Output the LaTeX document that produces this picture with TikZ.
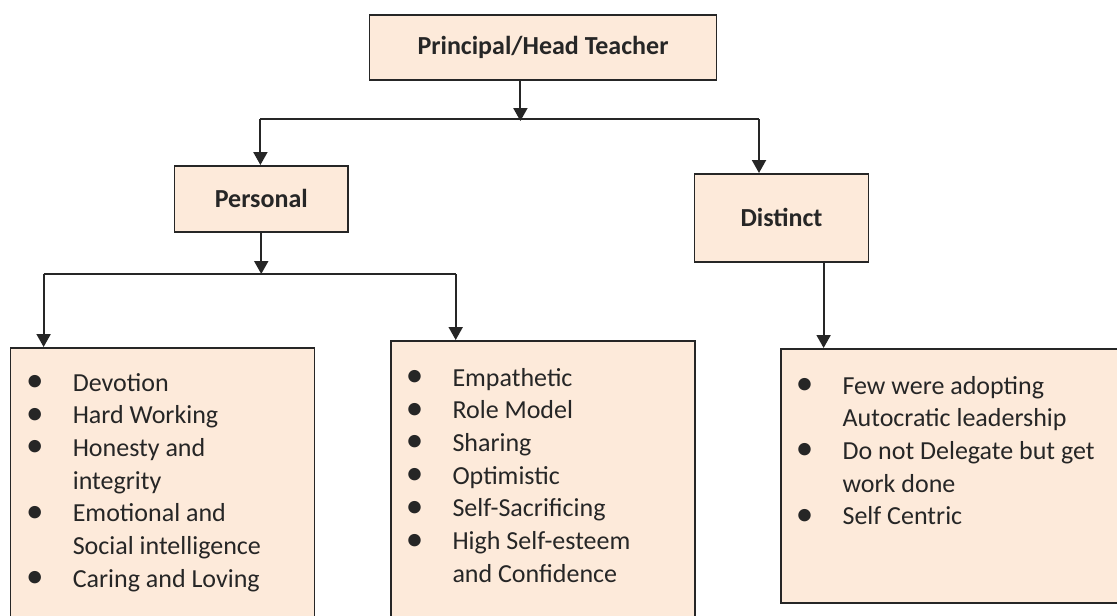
\documentclass[tikz,border=0pt]{standalone}
\usepackage{fontspec}
\setmainfont{Carlito}
\usetikzlibrary{arrows.meta}
\definecolor{peach}{HTML}{FDEADA}
\definecolor{ink}{HTML}{262626}
\newcommand{\bul}{\makebox[38pt][l]{\makebox[0pt]{\raisebox{-0.5pt}{\scalebox{1.35}{\textbullet}}}}}
\tikzset{
  box/.style={draw=ink, line width=1.8pt, fill=peach, anchor=north west, inner sep=0pt,
    font=\fontsize{26}{31}\selectfont\bfseries, text=ink},
  listtext/.style={anchor=base west, inner sep=0pt, text=ink,
    font=\fontsize{26}{32.7}\selectfont},
  bar/.style={draw=ink, line width=1.6pt},
  arr/.style={draw=ink, line width=2pt, -{Triangle[width=14pt,length=13pt]}}
}
\begin{document}
\begin{tikzpicture}[x=1pt,y=-1pt]
\useasboundingbox (0,0) rectangle (1117,616);
\clip (0,0) rectangle (1117,616);
\fill[white] (0,0) rectangle (1117,616);

\node[box, minimum width=347pt, minimum height=65pt] (top) at (368.6,14) {Principal/Head Teacher};
\node[box, minimum width=173.5pt, minimum height=66pt] (personal) at (173.6,165) {Personal};
\node[box, minimum width=174pt, minimum height=88pt] (distinct) at (693.6,173) {Distinct};
\node[box, minimum width=304pt, minimum height=273pt] (box1) at (9.6,347) {};
\node[box, minimum width=303.6pt, minimum height=280pt] (box2) at (390.4,340) {};
\node[box, minimum width=345pt, minimum height=254pt] (box3) at (780.2,348) {};

\node[listtext] (list1) at (34.6,391) {\begin{tabular}[t]{@{}l@{}l@{}}
\bul & Devotion\\
\bul & Hard Working\\
\bul & Honesty and\\
     & integrity\\
\bul & Emotional and\\
     & Social intelligence\\
\bul & Caring and Loving
\end{tabular}};
\node[listtext] (list2) at (414.3,386) {\begin{tabular}[t]{@{}l@{}l@{}}
\bul & Empathetic\\
\bul & Role Model\\
\bul & Sharing\\
\bul & Optimistic\\
\bul & Self-Sacrificing\\
\bul & High Self-esteem\\
     & and Confidence
\end{tabular}};
\node[listtext] (list3) at (804.4,394) {\begin{tabular}[t]{@{}l@{}l@{}}
\bul & Few were adopting\\
     & Autocratic leadership\\
\bul & Do not Delegate but get\\
     & work done\\
\bul & Self Centric
\end{tabular}};

\coordinate (t1) at (520.4,121);
\coordinate (hL) at (260.4,119);
\coordinate (hR) at (759,119);
\draw[bar] (hL) -- (hR);
\draw[arr] (t1 |- top.south) -- (t1);
\draw[arr] (hL) -- (hL |- personal.north);
\draw[arr] (hR) -- (hR |- distinct.north);

\coordinate (pL) at (43.6,274);
\coordinate (pR) at (455.7,274);
\draw[bar] (pL) -- (pR);
\draw[arr] (personal.south) -- (personal.south |- pL);
\draw[arr] (pL) -- (pL |- box1.north);
\draw[arr] (pR) -- (pR |- box2.north);

\coordinate (d1) at (823.6,300);
\draw[arr] (d1 |- distinct.south) -- (d1 |- box3.north);
\end{tikzpicture}
\end{document}
